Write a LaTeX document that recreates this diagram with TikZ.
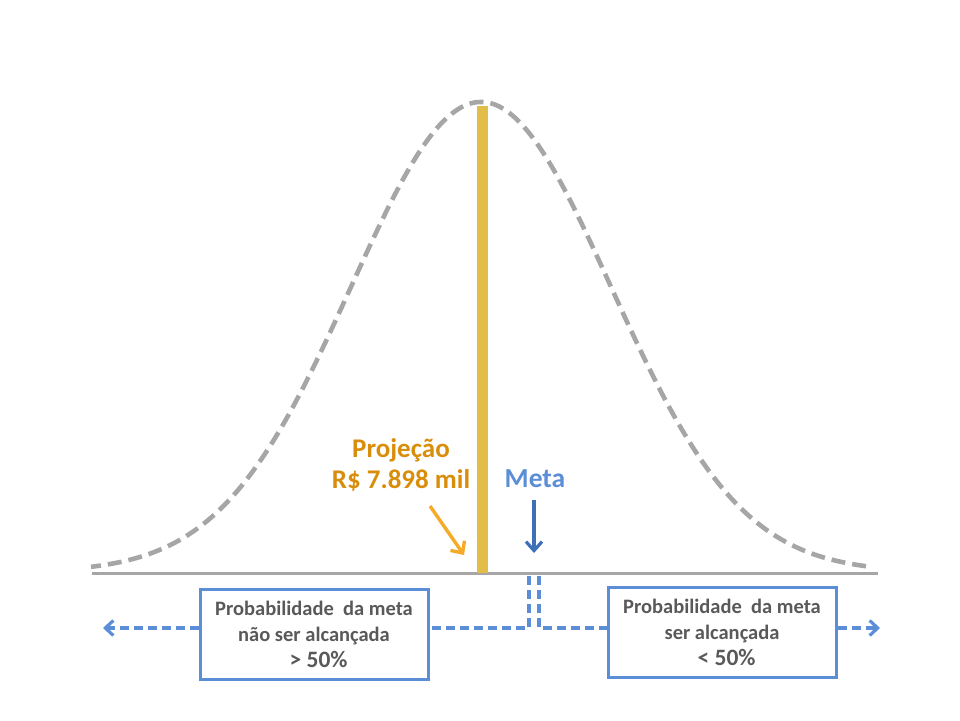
\documentclass[tikz,border=0pt]{standalone}
\usepackage{fontspec}
\setmainfont{Carlito}
\usetikzlibrary{arrows.meta}
\definecolor{curvegray}{HTML}{A6A6A6}
\definecolor{basegray}{HTML}{A6A6A6}
\definecolor{baryellow}{HTML}{E2BE48}
\definecolor{projorange}{HTML}{D98E0B}
\definecolor{arroworange}{HTML}{F5AA28}
\definecolor{metablue}{HTML}{5B8ED6}
\definecolor{darkblue}{HTML}{3E70B8}
\definecolor{textgray}{HTML}{595959}
\newcommand\pctfont{\fontsize{23.5}{26}\selectfont}
\tikzset{
  probbox/.style={draw=metablue, line width=3pt, minimum width=228pt, minimum height=90pt, inner sep=0pt, align=center, text=textgray, font=\fontsize{20.5}{26}\selectfont\bfseries},
  bluedash/.style={draw=metablue, line width=3.4pt, dash pattern=on 9pt off 5pt},
  bluetip/.style={-{Straight Barb[length=8pt,width=15pt,line width=3.2pt]}},
}
\begin{document}
\begin{tikzpicture}[x=1pt,y=-1pt]
\useasboundingbox (0,0) rectangle (960,720);
% baseline
\coordinate (bl) at (92,573);
\coordinate (br) at (878,573);
\draw[basegray, line width=3pt] (bl) -- (br);
% bell curve
\draw[curvegray, line width=4.6pt, dash pattern=on 14pt off 7pt, dash phase=4pt]
  plot[domain=-3:3, samples=121, smooth] ({481+130*\x},{572-470*exp(-0.5*\x*\x)});
% projection bar
\coordinate (bartop) at (482.5,106);
\coordinate (barbot) at (482.5,573);
\draw[baryellow, line width=11pt] (bartop) -- (barbot);
% labels
\node[text=projorange, font=\fontsize{27}{31}\selectfont\bfseries, align=center] (proj) at (401,465) {Projeção\\R\$ 7.898 mil};
\node[text=metablue, font=\fontsize{27.5}{30}\selectfont\bfseries] (meta) at (535,479) {Meta};
\coordinate (oa1) at (430,506);
\coordinate (oa2) at (464,555);
\draw[arroworange, line width=3.4pt, -{Straight Barb[length=9pt,width=17pt,line width=3.4pt]}] (oa1) -- (oa2);
\coordinate (ma1) at (534,500);
\coordinate (ma2) at (534,553);
\draw[darkblue, line width=3.2pt, -{Straight Barb[length=9pt,width=16pt,line width=3.2pt]}] (ma1) -- (ma2);
% boxes
\node[probbox] (lbox) at (314,634) {Probabilidade\ \ da meta\\não ser alcançada\\{\pctfont\ \,> 50\%}};
\node[probbox] (rbox) at (722,632) {Probabilidade\ \ da meta\\ser alcançada\\{\pctfont\ \,< 50\%}};
% connectors
\coordinate (d1top) at (529,576);
\coordinate (d1bot) at (529,628);
\coordinate (d2top) at (539,576);
\coordinate (d2bot) at (539,628);
\coordinate (larrow) at (103,628);
\coordinate (rarrow) at (880,628);
\draw[bluedash] (d1top) -- (d1bot) -- (lbox.east |- d1bot);
\draw[bluedash] (d2top) -- (d2bot) -- (rbox.west |- d2bot);
\draw[bluedash, bluetip] (lbox.west |- larrow) -- (larrow);
\draw[bluedash, bluetip] (rbox.east |- rarrow) -- (rarrow);
\end{tikzpicture}
\end{document}
